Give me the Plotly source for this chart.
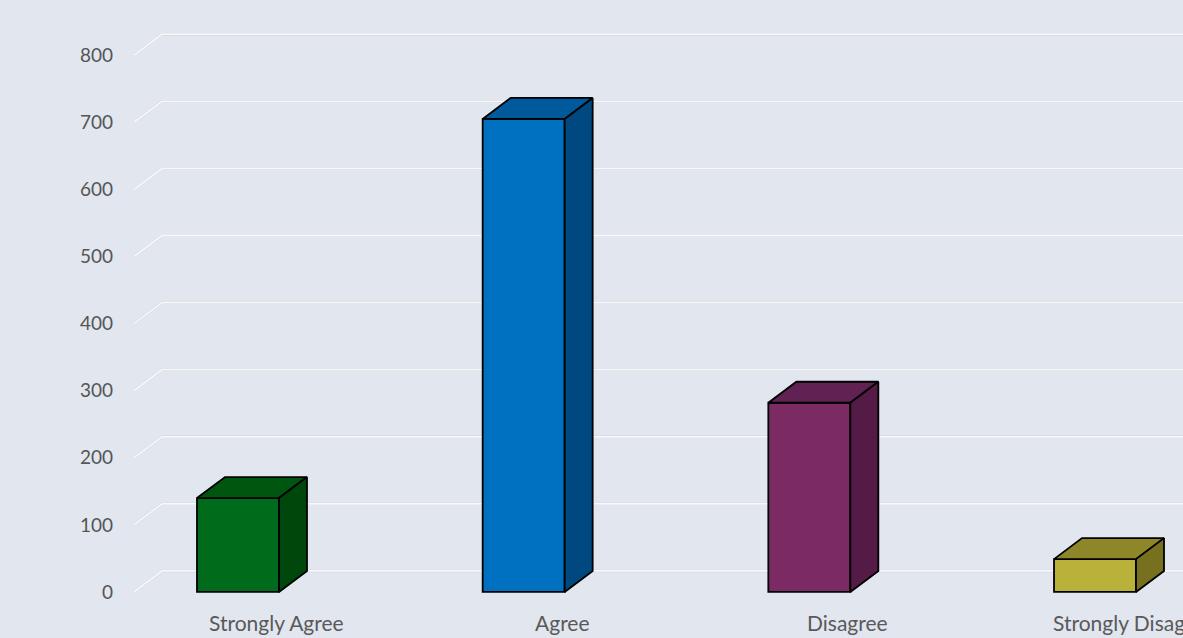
import plotly.graph_objects as go

categories = ["Strongly Agree", "Agree", "Disagree", "Strongly Disagree"]
values = [140, 705, 282, 49]
y_ticks = [0, 100, 200, 300, 400, 500, 600, 700, 800]

front_colors = ["#006B1A", "#0070C0", "#7B2A63", "#B8B13A"]
top_colors = ["#00560F", "#00599A", "#612152", "#8E872A"]
side_colors = ["#00470C", "#004980", "#531B45", "#77711F"]

# geometry (in axis units)
W = 0.287      # bar width (category units)
DX = 0.098     # depth offset x (category units)
DY = 31.3      # depth offset y (value units)
WALL_X = -0.364
XMIN, XMAX = -0.406, 3.308
YMIN, YMAX = -68.6, 867.4

fig = go.Figure()

# front faces
fig.add_trace(go.Bar(
    x=list(range(len(categories))), y=values, width=W,
    marker=dict(color=front_colors, line=dict(color="#000000", width=1.8)),
    hoverinfo="skip", showlegend=False,
))

# top and side faces
for i, v in enumerate(values):
    l, r = i - W / 2, i + W / 2
    fig.add_trace(go.Scatter(
        x=[l, l + DX, r + DX, r, l], y=[v, v + DY, v + DY, v, v],
        fill="toself", fillcolor=top_colors[i], mode="lines",
        line=dict(color="#000000", width=1.8), hoverinfo="skip", showlegend=False,
    ))
    fig.add_trace(go.Scatter(
        x=[r, r + DX, r + DX, r, r], y=[v, v + DY, DY, 0, v],
        fill="toself", fillcolor=side_colors[i], mode="lines",
        line=dict(color="#000000", width=1.8), hoverinfo="skip", showlegend=False,
    ))

# gridlines (wall)
shapes = []
for t in y_ticks:
    pts = [(WALL_X, t), (WALL_X + DX, t + DY), (XMAX + 0.2, t + DY)]
    path = "M {} {} L {} {} L {} {}".format(pts[0][0], pts[0][1], pts[1][0], pts[1][1], pts[2][0], pts[2][1])
    shapes.append(dict(type="path", path=path, xref="x", yref="y", layer="below",
                       line=dict(color="#CDD2DB", width=2.4)))
    shapes.append(dict(type="path", path=path, xref="x", yref="y", layer="below",
                       line=dict(color="#F7F8FA", width=1.8)))

annotations = []
for i, c in enumerate(categories):
    annotations.append(dict(x=i + 0.135, y=-45, xref="x", yref="y", text=c,
                            showarrow=False, xanchor="center", yanchor="middle",
                            font=dict(family="Lato", size=21, color="#595959")))

fig.update_layout(
    width=1183, height=638,
    margin=dict(l=122, r=0, t=10, b=0, autoexpand=False),
    paper_bgcolor="#E1E6EF", plot_bgcolor="#E1E6EF",
    shapes=shapes, annotations=annotations,
    showlegend=False, barmode="overlay",
    xaxis=dict(range=[XMIN, XMAX], showgrid=False, zeroline=False, showticklabels=False,
               showline=False, fixedrange=True),
    yaxis=dict(range=[YMIN, YMAX], showgrid=False, zeroline=False, tickvals=y_ticks,
               ticks="", ticklabelstandoff=8, automargin=False, showline=False,
               tickfont=dict(family="Lato", size=19, color="#555555"), fixedrange=True),
)

fig.write_html("out.html", config={"displayModeBar": False})
